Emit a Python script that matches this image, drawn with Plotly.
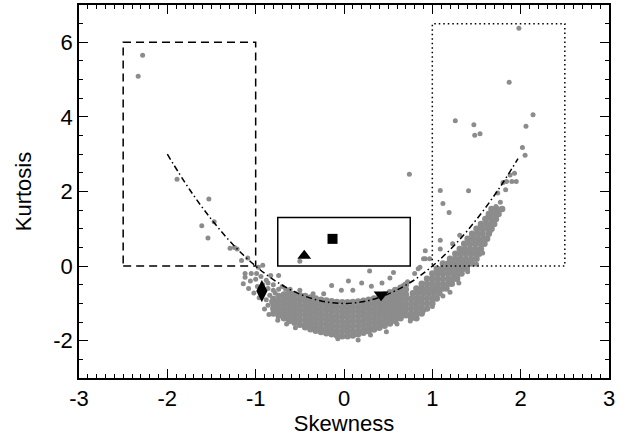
import plotly.graph_objects as go

# ---------------- data ----------------
# dense core of the cloud: (skewness, [kurtosis values])
core_cols = [
    (-0.80, [-0.88, -1.01, -1.14, -1.27]),
    (-0.74, [-0.80, -0.94, -1.07, -1.20, -1.33]),
    (-0.68, [-0.76, -0.89, -1.02, -1.15, -1.28, -1.40]),
    (-0.62, [-0.71, -0.84, -0.97, -1.10, -1.23, -1.36, -1.47]),
    (-0.56, [-0.75, -0.88, -1.01, -1.14, -1.27, -1.40, -1.52]),
    (-0.50, [-0.78, -0.91, -1.04, -1.17, -1.30, -1.43, -1.57]),
    (-0.44, [-0.80, -0.93, -1.06, -1.19, -1.32, -1.45, -1.58, -1.64]),
    (-0.38, [-0.84, -0.97, -1.10, -1.23, -1.36, -1.49, -1.62, -1.69]),
    (-0.32, [-0.87, -1.00, -1.13, -1.26, -1.39, -1.52, -1.65, -1.73]),
    (-0.26, [-0.90, -1.03, -1.16, -1.29, -1.42, -1.55, -1.68, -1.77]),
    (-0.20, [-0.92, -1.05, -1.18, -1.31, -1.44, -1.57, -1.70, -1.80]),
    (-0.14, [-0.94, -1.07, -1.20, -1.33, -1.46, -1.59, -1.72, -1.83]),
    (-0.08, [-0.96, -1.09, -1.22, -1.35, -1.48, -1.61, -1.74, -1.86]),
    (-0.02, [-0.97, -1.10, -1.23, -1.36, -1.49, -1.62, -1.75, -1.88]),
    (0.04, [-0.97, -1.10, -1.23, -1.36, -1.49, -1.62, -1.75, -1.88]),
    (0.10, [-0.96, -1.09, -1.22, -1.35, -1.48, -1.61, -1.74, -1.86]),
    (0.16, [-0.95, -1.08, -1.21, -1.34, -1.47, -1.60, -1.73, -1.83]),
    (0.22, [-0.93, -1.06, -1.19, -1.32, -1.45, -1.58, -1.71, -1.79]),
    (0.28, [-0.90, -1.03, -1.16, -1.29, -1.42, -1.55, -1.68, -1.75]),
    (0.34, [-0.87, -1.00, -1.13, -1.26, -1.39, -1.52, -1.65, -1.70]),
    (0.40, [-0.82, -0.95, -1.08, -1.21, -1.34, -1.47, -1.60, -1.65]),
    (0.46, [-0.76, -0.89, -1.02, -1.15, -1.28, -1.41, -1.54, -1.60]),
    (0.52, [-0.70, -0.83, -0.96, -1.09, -1.22, -1.35, -1.48, -1.54]),
    (0.58, [-0.64, -0.77, -0.90, -1.03, -1.16, -1.29, -1.42, -1.47]),
    (0.64, [-0.58, -0.71, -0.84, -0.97, -1.10, -1.23, -1.36, -1.40]),
    (0.70, [-0.50, -0.63, -0.76, -0.89, -1.02, -1.15, -1.28, -1.32]),
]

# rising right arm of the cloud: (kurtosis, [skewness values])
arm_rows = [
    (-1.40, [0.76, 0.82]),
    (-1.27, [0.76, 0.82, 0.88]),
    (-1.14, [0.76, 0.82, 0.88, 0.94]),
    (-1.00, [0.76, 0.82, 0.88, 0.94, 1.00]),
    (-0.87, [0.76, 0.82, 0.88, 0.94, 1.00, 1.05]),
    (-0.73, [0.78, 0.84, 0.90, 0.96, 1.02, 1.08]),
    (-0.60, [0.82, 0.88, 0.94, 1.00, 1.06, 1.12, 1.16]),
    (-0.47, [0.88, 0.94, 1.00, 1.06, 1.12, 1.18, 1.22]),
    (-0.34, [0.94, 1.00, 1.06, 1.12, 1.18, 1.24, 1.28]),
    (-0.20, [1.00, 1.06, 1.12, 1.18, 1.24, 1.30, 1.33]),
    (-0.07, [1.05, 1.11, 1.17, 1.23, 1.29, 1.35, 1.39]),
    (0.07, [1.12, 1.18, 1.24, 1.30, 1.36, 1.42, 1.45]),
    (0.20, [1.20, 1.26, 1.32, 1.38, 1.44, 1.50]),
    (0.33, [1.26, 1.32, 1.38, 1.44, 1.50, 1.53]),
    (0.46, [1.31, 1.37, 1.43, 1.49, 1.55]),
    (0.60, [1.36, 1.42, 1.48, 1.54, 1.59]),
    (0.73, [1.40, 1.46, 1.52, 1.58, 1.62]),
    (0.87, [1.45, 1.51, 1.57, 1.64]),
    (1.00, [1.50, 1.56, 1.62, 1.67]),
    (1.13, [1.55, 1.61, 1.67, 1.70]),
    (1.26, [1.60, 1.66, 1.72]),
    (1.40, [1.64, 1.70, 1.75]),
    (1.53, [1.67, 1.73, 1.79]),
]

# sparse points (skewness, kurtosis)
sparse_points = [
    # far outliers
    (-2.28, 5.65), (-2.33, 5.09), (1.98, 6.38), (1.87, 4.93), (2.14, 4.06),
    (2.06, 3.75), (1.26, 3.90), (1.47, 3.79), (1.48, 3.51), (1.54, 3.55),
    (2.02, 3.18), (2.05, 2.97),
    # top of the right arm
    (1.72, 1.60), (1.77, 1.71), (1.74, 1.96), (1.83, 2.05), (1.80, 2.24),
    (1.84, 2.27), (1.90, 2.27), (1.95, 2.27), (1.88, 2.44), (1.93, 2.49),
    (1.63, 1.33), (1.69, 1.45), (1.62, 0.76), (1.66, 0.95), (1.70, 1.15),
    # inside the dotted box, near the arm
    (0.74, 2.46), (1.09, 2.03), (1.41, 2.02), (1.12, 1.68), (1.19, 1.44),
    (1.09, 0.69), (0.92, 0.41), (0.92, 0.20), (0.97, 0.20), (1.09, 0.46),
    (1.09, -0.20), (0.84, -0.07), (0.80, -0.20), (0.86, -0.03), (0.90, 0.20),
    (1.31, 0.83), (1.23, 0.60), (1.29, -0.16),
    # above the curve in the middle
    (0.29, -0.13), (0.56, -0.17), (0.52, -0.32), (0.43, -0.45), (0.20, -0.45),
    (0.05, -0.40), (-0.14, -0.52), (-0.03, -0.65), (0.10, -0.65), (-0.23, -0.74),
    (-0.35, -0.74), (-0.50, -0.65), (-0.61, -0.62), (0.31, -0.54), (0.67, -0.52),
    (0.72, -0.42), (-0.50, 0.13),
    # left branch
    (-1.89, 2.33), (-1.53, 1.80), (-1.61, 1.08), (-1.54, 0.75), (-1.47, 1.19),
    (-1.29, 0.48), (-1.24, 0.50), (-1.21, 0.46), (-1.16, 0.15), (-1.09, 0.22),
    (-1.12, -0.20), (-1.05, -0.20), (-0.99, -0.20), (-0.92, 0.02), (-0.97, -0.03),
    (-1.14, -0.47), (-1.08, -0.60), (-0.98, -0.55), (-0.92, -0.50), (-0.86, -0.45),
    (-0.80, -0.50), (-0.86, -0.60), (-0.80, -0.65), (-0.84, -0.78), (-0.88, -0.90),
    (-0.82, -0.95), (-0.86, -1.05), (-0.90, -1.15), (-0.78, -0.72), (-1.02, -0.72),
    (-0.96, -0.85), (-1.06, -0.40), (-1.12, -0.30), (-1.00, -0.35), (-0.94, -0.28),
    (-0.88, -0.38), (-0.83, -0.25), (-0.74, -0.25), (-0.70, -0.55), (-0.74, -0.62),
    (-0.66, -0.62),
    # stragglers below the band
    (0.16, -1.98), (0.48, -1.76), (-0.07, -1.95), (0.60, -1.55), (0.75, -1.47),
    (0.90, -1.20), (1.00, -1.08), (1.12, -0.80), (1.20, -0.70), (1.30, -0.45),
    (1.40, -0.15), (1.50, 0.05), (1.57, 0.35), (-0.65, -1.55), (-0.75, -1.45),
    (-0.85, -1.30), (-0.55, -1.65), (0.30, -1.85),
]

# curve kurtosis = skewness^2 - 1
curve_skew = [-2.0, -1.75, -1.5, -1.25, -1.0, -0.75, -0.5, -0.25, 0.0,
              0.25, 0.5, 0.75, 1.0, 1.25, 1.5, 1.75, 1.97]
curve_kurt = [3.0, 2.06, 1.25, 0.56, 0.0, -0.44, -0.75, -0.94, -1.0,
              -0.94, -0.75, -0.44, 0.0, 0.56, 1.25, 2.06, 2.88]

# special markers
mark_skew = [-0.93, -0.45, -0.13, 0.42]
mark_kurt = [-0.67, 0.28, 0.73, -0.77]
mark_symbols = ["diamond-tall", "triangle-up", "square", "triangle-down"]
mark_sizes = [16, 12, 10, 13]

# boxes: (x0, x1, y0, y1)
box_dashed = (-2.5, -1.0, 0.0, 6.0)
box_dotted = (1.0, 2.5, 0.0, 6.5)
box_solid = (-0.75, 0.75, 0.0, 1.3)

x_ticks = [-3, -2, -1, 0, 1, 2, 3]
y_ticks = [-2, 0, 2, 4, 6]

# ---------------- build ----------------
dense_skew, dense_kurt = [], []
for x, ys in core_cols:
    for y in ys:
        dense_skew.append(x); dense_kurt.append(y)
for y, xs in arm_rows:
    for x in xs:
        dense_skew.append(x); dense_kurt.append(y)
sparse_skew = [p[0] for p in sparse_points]
sparse_kurt = [p[1] for p in sparse_points]

gray = "#8c8c8c"
fig = go.Figure()
fig.add_trace(go.Scatter(x=dense_skew, y=dense_kurt, mode="markers",
                         marker=dict(color=gray, size=6.5, opacity=1, line=dict(width=0)),
                         hoverinfo="skip"))
fig.add_trace(go.Scatter(x=sparse_skew, y=sparse_kurt, mode="markers",
                         marker=dict(color=gray, size=5, opacity=1, line=dict(width=0)),
                         hoverinfo="skip"))
fig.add_trace(go.Scatter(x=curve_skew, y=curve_kurt, mode="lines",
                         line=dict(color="black", width=1.5, shape="spline",
                                   dash="6px,3px,1.5px,3px")))
fig.add_trace(go.Scatter(x=mark_skew, y=mark_kurt, mode="markers",
                         marker=dict(color="black", symbol=mark_symbols, size=mark_sizes,
                                     opacity=1, line=dict(width=0))))

for (x0, x1, y0, y1), dash in [(box_dashed, "8px,5px"), (box_dotted, "1.5px,3px"),
                               (box_solid, "solid")]:
    fig.add_shape(type="rect", xref="x", yref="y", x0=x0, x1=x1, y0=y0, y1=y1,
                  line=dict(color="black", width=1.5, dash=dash))

font = dict(family="Liberation Sans, Arial, Helvetica, sans-serif", size=22, color="black")
axis_common = dict(showgrid=False, zeroline=False, showline=True, linecolor="black",
                   linewidth=1.5, mirror="ticks", ticks="inside", ticklen=9,
                   tickwidth=1.2, tickcolor="black", tickfont=font)
fig.update_xaxes(range=[-3, 3], tickvals=x_ticks, ticktext=[str(v) for v in x_ticks],
                 minor=dict(dtick=0.1, ticklen=4, ticks="inside", tickcolor="black", tickwidth=1),
                 title=dict(text="Skewness", font=font, standoff=2), **axis_common)
fig.update_yaxes(range=[-3, 7], tickvals=y_ticks, ticktext=[str(v) for v in y_ticks],
                 minor=dict(dtick=0.5, ticklen=4, ticks="inside", tickcolor="black", tickwidth=1),
                 title=dict(text="Kurtosis", font=font, standoff=16), **axis_common)
fig.update_layout(width=627, height=440, showlegend=False,
                  margin=dict(l=79, r=18, t=3, b=62),
                  paper_bgcolor="white", plot_bgcolor="white", font=font)
fig.write_html("out.html", config={"displayModeBar": False},
               post_script="document.body.style.margin='0';document.body.style.padding='0';")
